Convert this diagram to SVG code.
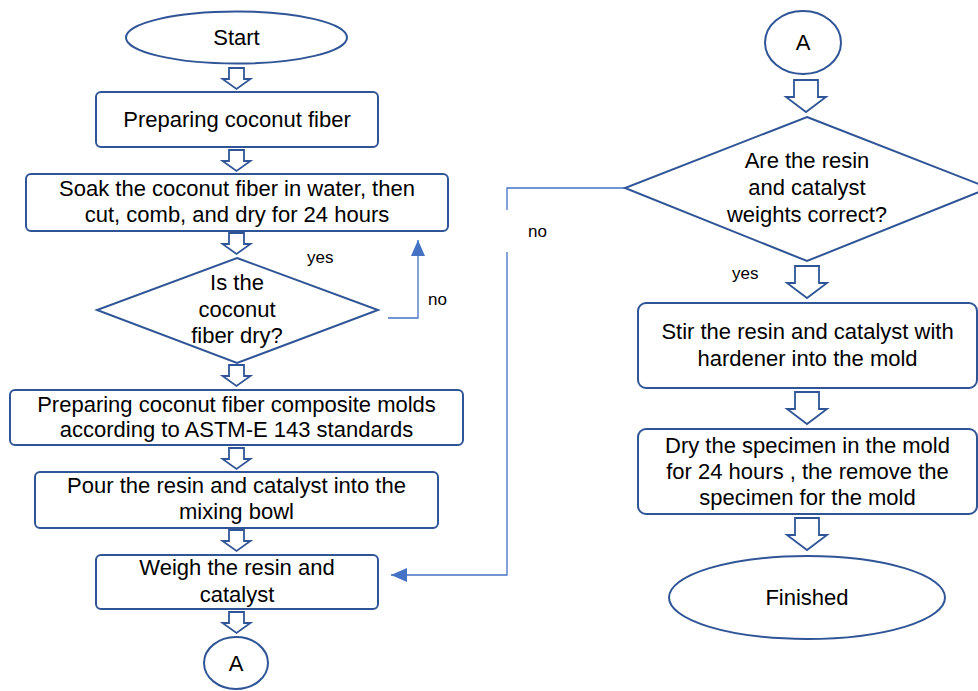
<svg xmlns="http://www.w3.org/2000/svg" width="978" height="691" viewBox="0 0 978 691">
<style>
.shape{fill:#fff;stroke:#2F5597;stroke-width:2}
.ba{fill:#fff;stroke:#2F5597;stroke-width:1.8;stroke-linejoin:miter}
.t{font-family:"Liberation Sans",Arial,sans-serif;font-size:22px;fill:#000;text-anchor:middle}
.lbl{font-family:"Liberation Sans",Arial,sans-serif;font-size:17px;fill:#000}
.conn{fill:none;stroke:#4472C4;stroke-width:1.3}
</style>
<defs>
<path id="baL" class="ba" d="M -7.5 0 H 7.5 V 11 H 14 L 0 21 L -14 11 H -7.5 Z"/>
<path id="baR" class="ba" d="M -12 0 H 12 V 17 H 20 L 0 32 L -20 17 H -12 Z"/>
<marker id="ah" markerUnits="userSpaceOnUse" markerWidth="18" markerHeight="14" refX="16" refY="7" orient="auto">
<path d="M0 0 L16 7 L0 14 Z" fill="#4472C4"/>
</marker>
</defs>
<rect width="978" height="691" fill="#fff"/>

<g id="connectors">
<use href="#baL" x="236.5" y="68"/>
<use href="#baL" x="236.5" y="150"/>
<use href="#baL" x="236.5" y="233"/>
<use href="#baL" x="236.5" y="365"/>
<use href="#baL" x="236.5" y="448"/>
<use href="#baL" x="236.5" y="530"/>
<use href="#baL" x="236.5" y="612"/>
<use href="#baR" x="806" y="80"/>
<use href="#baR" x="807" y="266"/>
<use href="#baR" x="807" y="392"/>
<use href="#baR" x="807" y="518"/>
<path class="conn" d="M388 318 H418 V240" marker-end="url(#ah)"/>
<path class="conn" d="M625 188 H507 V210 M507 252 V575 H391" marker-end="url(#ah)"/>
</g>

<g id="start">
<ellipse class="shape" cx="236.5" cy="37.5" rx="110.5" ry="26"/>
<text class="t" x="236.5" y="45">Start</text>
</g>

<g id="prep">
<rect class="shape" x="96" y="92" width="282" height="55" rx="5"/>
<text class="t" x="237" y="127">Preparing coconut fiber</text>
</g>

<g id="soak">
<rect class="shape" x="26" y="174" width="422" height="57" rx="5"/>
<text class="t" x="237" y="196">Soak the coconut fiber in water, then</text>
<text class="t" x="237" y="222">cut, comb, and dry for 24 hours</text>
</g>

<g id="dry-check">
<polygon class="shape" points="237,258 378,310 237,363 97,310"/>
<text class="t" x="237" y="290">Is the</text>
<text class="t" x="237" y="317">coconut</text>
<text class="t" x="237" y="343">fiber dry?</text>
<text class="lbl" x="307" y="263">yes</text>
<text class="lbl" x="428" y="305">no</text>
</g>

<g id="molds">
<rect class="shape" x="10" y="390" width="453" height="55" rx="5"/>
<text class="t" x="236.5" y="412">Preparing coconut fiber composite molds</text>
<text class="t" x="236.5" y="437">according to ASTM-E 143 standards</text>
</g>

<g id="pour">
<rect class="shape" x="35" y="472" width="403" height="56" rx="5"/>
<text class="t" x="236.5" y="493">Pour the resin and catalyst into the</text>
<text class="t" x="236.5" y="519">mixing bowl</text>
</g>

<g id="weigh">
<rect class="shape" x="96" y="555" width="282" height="54" rx="5"/>
<text class="t" x="237" y="575">Weigh the resin and</text>
<text class="t" x="237" y="602">catalyst</text>
</g>

<g id="a-bottom">
<ellipse class="shape" cx="236" cy="663" rx="32" ry="26"/>
<text class="t" x="236" y="671">A</text>
</g>

<g id="a-top">
<ellipse class="shape" cx="803" cy="42.5" rx="38" ry="31.5"/>
<text class="t" x="803" y="50">A</text>
</g>

<g id="weight-check">
<polygon class="shape" points="807,117 989,188 807,261 625,188"/>
<text class="t" x="807" y="168">Are the resin</text>
<text class="t" x="807" y="195">and catalyst</text>
<text class="t" x="807" y="222">weights correct?</text>
<text class="lbl" x="732" y="279">yes</text>
<text class="lbl" x="528" y="237">no</text>
</g>

<g id="stir">
<rect class="shape" x="638" y="303" width="339" height="85" rx="8"/>
<text class="t" x="807.5" y="339">Stir the resin and catalyst with</text>
<text class="t" x="807.5" y="366">hardener into the mold</text>
</g>

<g id="dry-mold">
<rect class="shape" x="638" y="429" width="339" height="85" rx="8"/>
<text class="t" x="807.5" y="453">Dry the specimen in the mold</text>
<text class="t" x="807.5" y="479">for 24 hours , the remove the</text>
<text class="t" x="807.5" y="505">specimen for the mold</text>
</g>

<g id="finished">
<ellipse class="shape" cx="807" cy="597.5" rx="138" ry="41.5"/>
<text class="t" x="807" y="605">Finished</text>
</g>
</svg>
